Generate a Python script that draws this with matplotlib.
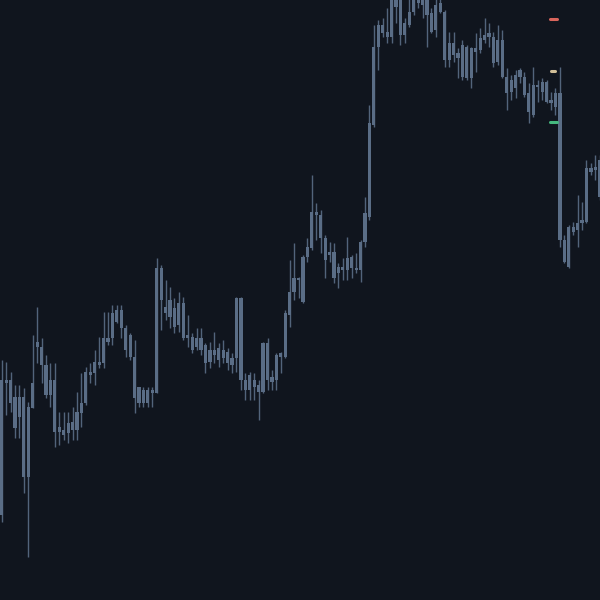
import numpy as np
import matplotlib
matplotlib.use("Agg")
from matplotlib import pyplot as plt

# OHLC prices
opens = [108.5, 122.0, 122.0, 120.3, 118.3, 120.3, 112.3, 119.2, 125.3, 125.3,
         123.5, 120.5, 122.0, 116.8, 117.0, 116.7, 117.8, 117.0, 118.7, 119.7,
         122.8, 122.7, 123.5, 123.7, 125.8, 126.2, 127.8, 129.0, 127.2, 126.5,
         124.3, 121.3, 119.7, 121.0, 120.7, 120.7, 133.2, 128.7, 130.0, 129.2,
         127.5, 129.7, 126.2, 126.3, 125.3, 126.2, 125.5, 123.8, 125.0, 124.0,
         125.0, 124.8, 123.5, 124.2, 130.2, 122.0, 121.0, 122.0, 121.5, 120.8,
         125.7, 121.8, 122.0, 124.3, 124.3, 128.5, 130.8, 132.0, 129.8, 134.3,
         135.2, 138.8, 138.5, 136.2, 134.5, 134.8, 132.7, 133.3, 133.0, 134.3,
         133.2, 133.0, 135.8, 138.3, 147.5, 155.3, 157.5, 156.8, 156.3, 160.5,
         160.3, 156.5, 157.5, 158.8, 160.8, 159.5, 160.2, 158.7, 157.0, 159.7,
         158.8, 154.0, 155.7, 154.7, 155.5, 152.2, 155.2, 154.8, 155.0, 156.0,
         156.7, 156.3, 153.8, 156.0, 152.3, 150.8, 151.2, 152.3, 152.3, 150.7,
         148.5, 151.5, 150.8, 151.8, 150.0, 149.3, 150.7, 136.0, 133.3, 137.3,
         137.0, 137.7, 137.8, 143.2, 143.0, 144.0]
closes = [122.0, 121.7, 119.7, 117.2, 120.3, 112.3, 119.3, 121.7, 125.8, 123.5,
          120.5, 122.0, 116.8, 117.3, 116.5, 117.7, 117.0, 118.8, 119.7, 122.8,
          122.5, 123.8, 123.8, 126.2, 126.2, 128.7, 129.0, 127.2, 125.0, 124.3,
          120.2, 119.7, 121.0, 119.7, 121.0, 133.2, 130.0, 129.3, 128.3, 127.3,
          129.7, 126.2, 126.5, 125.0, 126.2, 125.0, 123.7, 125.0, 124.5, 125.2,
          124.2, 123.7, 124.2, 130.2, 122.0, 121.0, 122.5, 121.3, 120.8, 125.7,
          122.0, 122.3, 124.5, 124.7, 128.7, 130.8, 132.2, 132.2, 134.3, 135.3,
          138.8, 138.5, 136.2, 134.0, 134.8, 132.2, 133.3, 133.0, 134.2, 133.2,
          133.0, 135.8, 138.7, 147.7, 155.3, 157.5, 156.7, 156.3, 160.5, 159.3,
          156.5, 157.7, 158.8, 160.3, 159.7, 160.5, 158.5, 156.8, 159.5, 158.8,
          154.0, 155.7, 154.5, 154.2, 152.3, 155.3, 152.2, 155.2, 156.2, 156.5,
          156.3, 153.7, 156.0, 152.3, 150.7, 152.0, 152.5, 153.0, 150.5, 148.8,
          151.5, 151.3, 151.8, 149.8, 149.7, 150.7, 136.0, 133.8, 137.3, 136.8,
          137.7, 138.0, 143.2, 142.8, 143.3, 140.3]
highs = [124.0, 123.8, 122.8, 121.5, 121.5, 121.2, 119.8, 126.5, 129.3, 126.2,
         124.5, 123.7, 123.7, 118.8, 118.8, 118.8, 119.3, 120.8, 122.7, 123.3,
         123.7, 125.0, 126.3, 128.8, 128.8, 129.5, 129.5, 129.5, 127.5, 126.7,
         126.0, 121.3, 121.3, 121.3, 121.3, 134.2, 133.5, 132.0, 131.3, 130.2,
         130.8, 130.3, 128.5, 126.7, 127.2, 127.2, 125.7, 125.8, 126.8, 125.7,
         126.0, 125.2, 124.7, 130.3, 130.3, 122.7, 122.8, 122.7, 122.0, 125.8,
         126.2, 123.0, 124.7, 124.8, 129.0, 134.0, 135.7, 132.3, 134.5, 136.2,
         142.5, 139.7, 139.0, 136.5, 135.8, 135.7, 133.7, 134.2, 136.3, 134.5,
         134.7, 136.0, 140.3, 149.5, 157.5, 158.0, 158.2, 159.2, 161.0, 161.5,
         161.0, 158.2, 160.5, 161.0, 161.5, 161.2, 160.8, 159.2, 160.3, 160.5,
         159.0, 156.8, 156.8, 155.2, 156.0, 155.5, 155.3, 156.7, 157.2, 158.2,
         157.7, 156.8, 157.5, 157.0, 153.2, 152.5, 153.0, 153.2, 152.8, 151.7,
         153.3, 152.0, 152.2, 152.0, 150.8, 151.2, 153.3, 136.5, 137.5, 137.8,
         140.5, 139.8, 144.0, 143.7, 144.5, 144.5]
lows = [107.8, 118.5, 118.8, 116.2, 116.2, 110.7, 104.3, 119.2, 123.7, 121.7,
        120.2, 119.3, 115.3, 115.5, 116.0, 115.7, 116.0, 116.0, 117.3, 119.5,
        121.7, 121.5, 123.2, 123.2, 125.5, 125.5, 127.7, 126.2, 124.3, 124.0,
        118.7, 119.3, 119.3, 119.3, 119.3, 120.7, 127.0, 128.0, 127.2, 126.7,
        126.8, 126.0, 125.3, 124.7, 125.0, 124.5, 122.7, 123.2, 123.7, 123.3,
        123.7, 123.0, 122.7, 122.8, 121.0, 120.0, 120.0, 120.0, 118.0, 120.7,
        121.0, 121.0, 121.0, 122.7, 124.2, 127.3, 130.0, 130.2, 129.7, 133.8,
        135.0, 136.0, 134.7, 132.2, 133.8, 131.7, 131.2, 132.0, 132.0, 132.2,
        132.7, 131.8, 135.3, 138.0, 147.3, 153.0, 156.3, 155.7, 155.7, 157.7,
        155.5, 155.7, 157.3, 158.5, 159.2, 158.2, 155.3, 156.7, 156.3, 158.7,
        153.3, 153.3, 153.8, 152.2, 152.0, 152.0, 151.2, 152.8, 154.7, 155.7,
        155.3, 153.3, 153.5, 152.2, 149.0, 150.0, 150.2, 151.7, 150.3, 147.7,
        148.3, 149.8, 150.0, 149.7, 149.0, 148.5, 135.3, 133.7, 133.2, 136.5,
        135.3, 137.0, 137.7, 142.5, 142.0, 140.0]

# trade levels drawn as short dashes near the right edge
marker_bar = 124.5
marker_levels = [158.1, 152.9, 147.8]
marker_colors = ["#d9655c", "#d2bf98", "#45b87f"]
marker_widths = [1.6, 1.0, 1.6]

bg = "#10151e"
candle_color = "#5a6d86"

o = np.array(opens)
c = np.array(closes)
h = np.array(highs)
l = np.array(lows)
idx = np.arange(len(o))

fig = plt.figure(figsize=(6, 6), dpi=100, facecolor=bg)
ax = fig.add_axes([0, 0, 1, 1])
ax.set_facecolor(bg)

ax.vlines(idx, l, h, color=candle_color, linewidth=1.0, alpha=0.9)
body_lo = np.minimum(o, c)
body_h = np.maximum(np.abs(c - o), 0.2)
ax.bar(idx, body_h, bottom=body_lo, width=0.72, color=candle_color, linewidth=0)

for lvl, col, w in zip(marker_levels, marker_colors, marker_widths):
    ax.hlines(lvl, marker_bar - w / 2, marker_bar + w / 2, color=col,
              linewidth=2.2, capstyle="round")

ax.set_xlim(-0.38, 135.05)
ax.set_ylim(100, 160)
ax.axis("off")

fig.savefig("out.png", dpi=100, facecolor=bg)
